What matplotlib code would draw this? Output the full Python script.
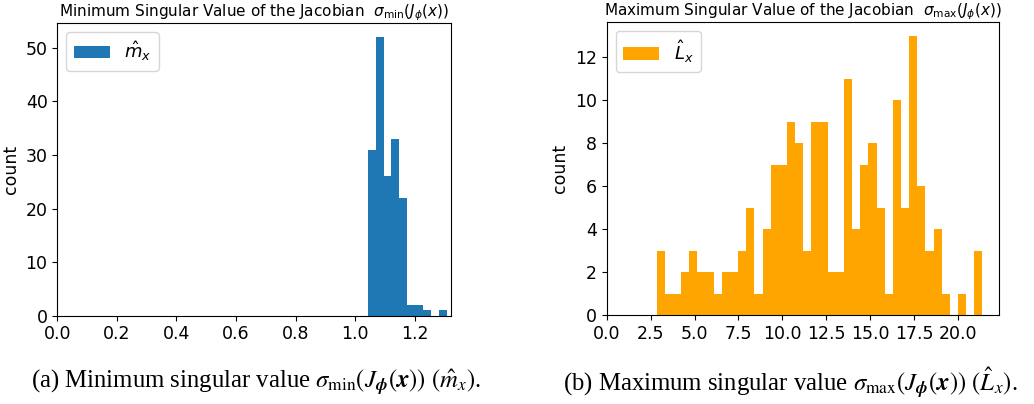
import numpy as np
import matplotlib
matplotlib.use("Agg")
import matplotlib.pyplot as plt

# ---- data ----
min_lo, min_hi = 1.042, 1.307
min_counts = [31, 52, 26, 33, 22, 2, 2, 1, 0, 1]

max_lo, max_hi = 2.844, 21.39
max_counts = [3, 1, 1, 2, 3, 2, 2, 1, 2, 2,
              3, 5, 1, 4, 7, 7, 9, 8, 3, 9,
              9, 2, 2, 11, 4, 7, 8, 5, 1, 10,
              5, 13, 6, 3, 4, 1, 0, 1, 0, 3]

titles = [r"Minimum Singular Value of the Jacobian  $\sigma_{\min}(J_\phi(x))$",
          r"Maximum Singular Value of the Jacobian  $\sigma_{\max}(J_\phi(x))$"]
legend_labels = [r"$\hat{m}_x$", r"$\hat{L}_x$"]
captions = [r"(a) Minimum singular value $\sigma_{\min}\left(J_{\mathbfit{\phi}}(\mathbfit{x})\right)$ $(\hat{m}_x)$.",
            r"(b) Maximum singular value $\sigma_{\max}\left(J_{\mathbfit{\phi}}(\mathbfit{x})\right)$ $(\hat{L}_x)$."]
colors = ["#1f77b4", "orange"]

W, H = 1034, 404
fig = plt.figure(figsize=(W / 100, H / 100), dpi=100)

def px_axes(l, r, t, b):
    return fig.add_axes([l / W, 1 - b / H, (r - l) / W, (b - t) / H])

ax1 = px_axes(57.3, 450.7, 23.3, 315.7)
ax2 = px_axes(606.7, 998.7, 21.7, 315.0)

specs = [(ax1, min_lo, min_hi, min_counts), (ax2, max_lo, max_hi, max_counts)]
for i, (ax, lo, hi, counts) in enumerate(specs):
    edges = np.linspace(lo, hi, len(counts) + 1)
    centers = 0.5 * (edges[:-1] + edges[1:])
    ax.hist(centers, bins=edges, weights=counts, color=colors[i], label=legend_labels[i])
    ax.set_xlim(left=0)
    ax.set_ylabel("count", fontsize=12.5)
    ax.tick_params(labelsize=12.5)
    ax.set_title(titles[i], fontsize=11, pad=4)
    ax.legend(loc="upper left", fontsize=13)

ax2.set_xticks(np.arange(0, 21, 2.5))

for i, x in enumerate([256, 790]):
    fig.text(x / W, 1 - 383 / H, captions[i], ha="center", va="center",
             family="Liberation Serif", math_fontfamily="stix", fontsize=17.8)

fig.savefig("out.png", dpi=100)
